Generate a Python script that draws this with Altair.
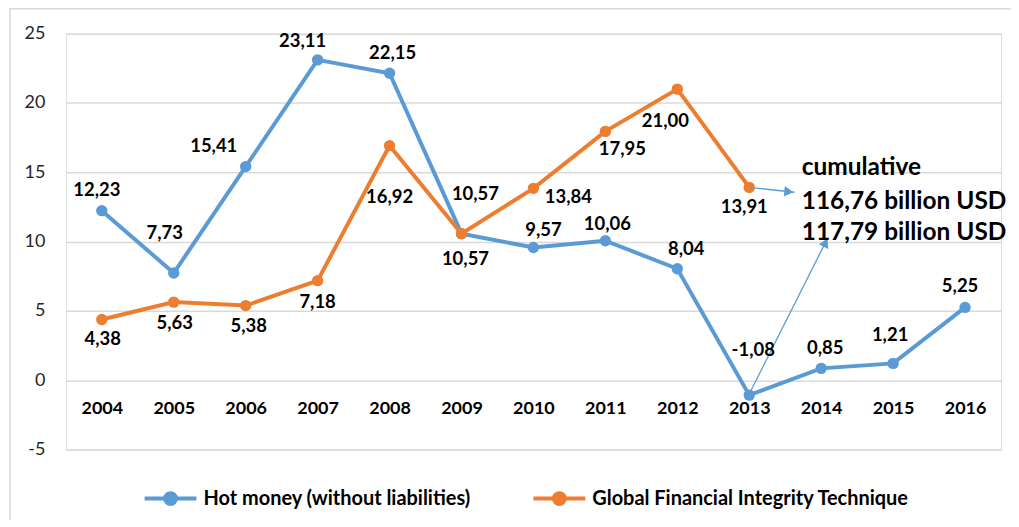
import altair as alt
import pandas as pd

# ---------------- data ----------------
years = list(range(2004, 2017))
hot_money = [12.23, 7.73, 15.41, 23.11, 22.15, 10.57, 9.57, 10.06, 8.04, -1.08, 0.85, 1.21, 5.25]
gfi_years = list(range(2004, 2014))
gfi = [4.38, 5.63, 5.38, 7.18, 16.92, 10.57, 13.84, 17.95, 21.00, 13.91]
series_names = ["Hot money (without liabilities)", "Global Financial Integrity Technique"]
series_colors = ["#5B9BD5", "#ED7D31"]
y_ticks = [-5, 0, 5, 10, 15, 20, 25]

# label placement (pixel offsets from each point)
hot_label_offsets = [(-5, -21), (-9, -40), (-32, -21), (-15, -19), (3, -20), (14, -40), (10, -18),
                     (2, -17), (9, -20), (4, -45), (4, -20), (-3, -28), (-5, -21)]
gfi_label_offsets = [(1, 20), (1, 21), (3, 20), (0, 21), (0, 52), (4, 25), (35, 9), (17, 18), (-12, 32), (-5, 20)]

annotation_lines = ["cumulative", "116,76 billion USD", "117,79 billion USD"]
annotation_x = [2013.73, 2013.73, 2013.73]
annotation_y = [15.3, 12.85, 10.6]

arrow_start_x = [2013, 2013]
arrow_start_y = [13.91, -1.0]
arrow_end_x = [2013.63, 2014.09]
arrow_end_y = [13.56, 10.25]
arrow_head_x = [2013.55, 2014.06]
arrow_head_y = [13.6, 9.93]
arrow_head_angle = [96, 26]

# ---------------- tables ----------------
def fmt(v):
    return f"{v:.2f}".replace(".", ",")

rows = []
for yr, v in zip(years, hot_money):
    rows.append({"year": yr, "value": v, "series": series_names[0], "label": fmt(v)})
for yr, v in zip(gfi_years, gfi):
    rows.append({"year": yr, "value": v, "series": series_names[1], "label": fmt(v)})
df = pd.DataFrame(rows)

ann_df = pd.DataFrame({"year": annotation_x, "value": annotation_y, "text": annotation_lines})
arrow_df = pd.DataFrame({"x0": arrow_start_x, "y0": arrow_start_y, "x1": arrow_end_x, "y1": arrow_end_y})
head_df = pd.DataFrame({"x": arrow_head_x, "y": arrow_head_y, "angle": arrow_head_angle})

FONT = "Lato"
x_scale = alt.Scale(domain=[2003.5, 2016.5], nice=False, zero=False)
y_scale = alt.Scale(domain=[-5, 25], nice=False, zero=False)

X = alt.X("year:Q", scale=x_scale, title=None,
          axis=alt.Axis(values=years, format="d", grid=False, domain=False, ticks=False,
                        labelFontSize=18, labelFontWeight="bold", labelFont=FONT, labelColor="#000000",
                        offset=-69.5, labelPadding=19))
Y = alt.Y("value:Q", scale=y_scale, title=None,
          axis=alt.Axis(values=y_ticks, grid=True, gridColor="#d9d9d9", gridWidth=1.5, domain=False,
                        ticks=False, labelFontSize=18, labelFont=FONT, labelColor="#262626", labelPadding=21,
                        labelExpr="'' + datum.value"))

legend_symbol = ("M-1,0L1,0M-0.21,0A0.21,0.21,0,1,1,0.21,0A0.21,0.21,0,1,1,-0.21,0Z")

color = alt.Color("series:N", scale=alt.Scale(domain=series_names, range=series_colors),
                  legend=alt.Legend(title=None, orient="none", direction="horizontal",
                                    legendX=77, legendY=438, padding=0,
                                    symbolType=legend_symbol, symbolSize=2704, symbolStrokeWidth=4,
                                    labelFontSize=20, labelFontWeight="bold", labelFont=FONT,
                                    labelColor="#000000", columnPadding=54, labelOffset=5,
                                    labelLimit=500))

border = alt.Chart(pd.DataFrame({"a": [0]})).mark_rect(
    fillOpacity=0, stroke="#d9d9d9", strokeWidth=1.5
).encode(x=alt.value(-56), x2=alt.value(960), y=alt.value(-25), y2=alt.value(620))

lines = alt.Chart(df).mark_line(strokeWidth=4).encode(x=X, y=Y, color=color)
points = alt.Chart(df).mark_point(filled=True, size=130, opacity=1).encode(x=X, y=Y, color=color)

label_layers = []
hot_df = df[df.series == series_names[0]].reset_index(drop=True)
gfi_df = df[df.series == series_names[1]].reset_index(drop=True)
for sub, offs in ((hot_df, hot_label_offsets), (gfi_df, gfi_label_offsets)):
    for i, (dx, dy) in enumerate(offs):
        label_layers.append(
            alt.Chart(sub.iloc[[i]]).mark_text(
                dx=dx, dy=dy, fontSize=18.5, fontWeight="bold", font=FONT, color="#000000",
                align="center", baseline="middle"
            ).encode(x="year:Q", y="value:Q", text="label:N")
        )

ann = alt.Chart(ann_df).mark_text(
    align="left", baseline="middle", fontSize=24.5, fontWeight="bold", font=FONT, color="#000000"
).encode(x="year:Q", y="value:Q", text="text:N")

arrows = alt.Chart(arrow_df).mark_rule(color="#5B9BD5", strokeWidth=1.3).encode(
    x="x0:Q", y="y0:Q", x2="x1:Q", y2="y1:Q")
heads = alt.Chart(head_df).mark_point(
    shape="triangle-up", filled=True, size=110, color="#5B9BD5", opacity=1
).encode(x="x:Q", y="y:Q", angle=alt.Angle("angle:Q", scale=None))

chart = alt.layer(border, lines, points, arrows, heads, ann, *label_layers).properties(
    width=938, height=417,
    autosize=alt.AutoSizeParams(type="none"),
    padding={"left": 58, "top": 25, "right": 10, "bottom": 70},
).configure_view(strokeWidth=0).configure(font=FONT)

chart.save("out.html", embed_options={"renderer": "svg", "actions": False})
